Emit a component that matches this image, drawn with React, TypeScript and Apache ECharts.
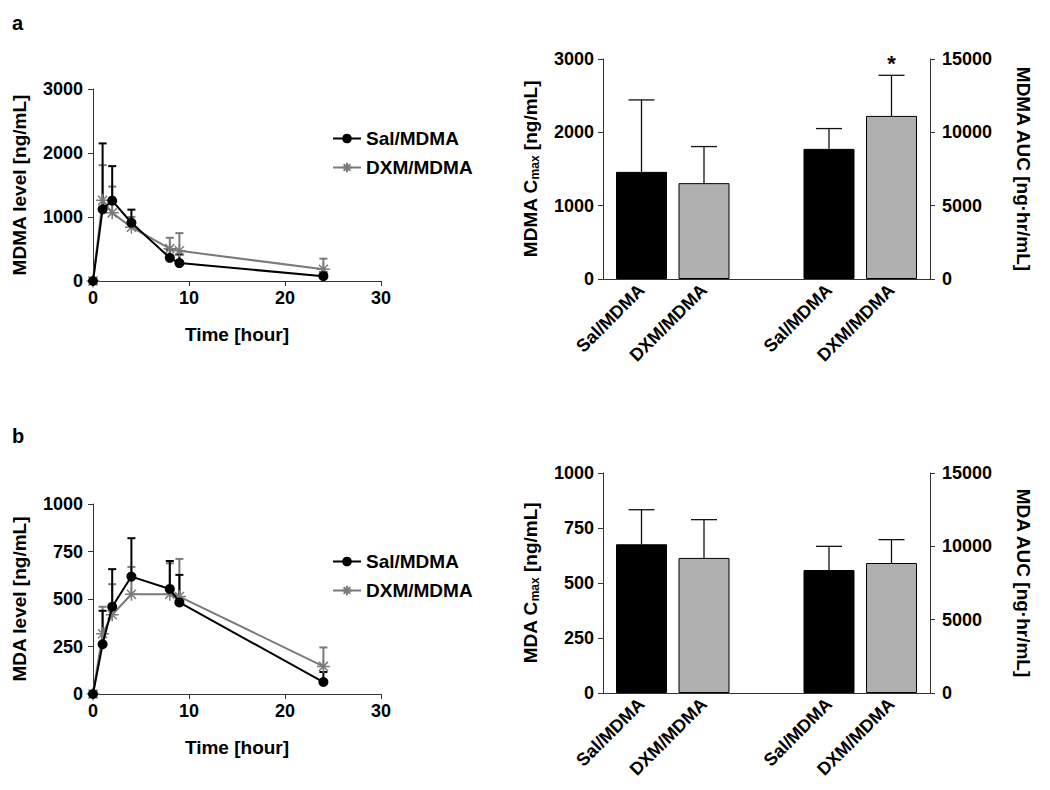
import React, { useEffect, useRef } from 'react';
import * as echarts from 'echarts';

const FONT = '"Liberation Sans", Arial, Helvetica, sans-serif';

// ---- time-course data ----
const times = [0, 1, 2, 4, 8, 9, 24];
const mdmaSalMean = [0, 1120, 1255, 910, 362, 280, 75];
const mdmaSalSd = [0, 1030, 540, 205, 128, 135, 65];
const mdmaDxmMean = [0, 1260, 1065, 840, 505, 472, 183];
const mdmaDxmSd = [0, 550, 410, 160, 170, 276, 166];
const mdaSalMean = [0, 262, 459, 618, 553, 482, 63];
const mdaSalSd = [0, 176, 198, 202, 147, 145, 53];
const mdaDxmMean = [0, 317, 417, 525, 525, 513, 145];
const mdaDxmSd = [0, 142, 161, 144, 163, 198, 100];

// ---- bar data ----
const groupNames = ['Sal/MDMA', 'DXM/MDMA', 'Sal/MDMA', 'DXM/MDMA'];
const barPositions = [0, 1, 3, 4];
const mdmaCmaxMean = [1461, 1307];
const mdmaCmaxSd = [981, 499];
const mdmaAucMean = [8873, 11120];
const mdmaAucSd = [1384, 2768];
const mdaCmaxMean = [676, 614];
const mdaCmaxSd = [157, 174];
const mdaAucMean = [8386, 8864];
const mdaAucSd = [1614, 1591];
const mdmaSig = ['', '', '', '*'];
const mdaSig = ['', '', '', ''];

const SAL = 'Sal/MDMA';
const DXM = 'DXM/MDMA';
const barColors = ['#000000', '#b0b0b0'];
const AXIS = '#333333';
const GRAY = '#7a7a7a';
const ASTERISK = 'path://M6,0L6,12M0,6L12,6M1.8,1.8L10.2,10.2M1.8,10.2L10.2,1.8';

const plain = (v: number) => String(v);
const labelStyle = { color: '#000', fontFamily: FONT, fontWeight: 'bold' as const, fontSize: 18 };
const nameStyle = { color: '#000', fontFamily: FONT, fontWeight: 'bold' as const, fontSize: 19 };

function errRender(capHalf: number, color: string, width: number, sig?: string[]) {
  return (params: any, api: any) => {
    const x = api.value(0);
    const y = api.value(1);
    const e = api.value(2);
    if (!(e > 0)) return null;
    const p0 = api.coord([x, y]);
    const p1 = api.coord([x, y + e]);
    const children: any[] = [
      { type: 'line', shape: { x1: p0[0], y1: p0[1], x2: p1[0], y2: p1[1] }, style: { stroke: color, lineWidth: width } },
      { type: 'line', shape: { x1: p1[0] - capHalf, y1: p1[1], x2: p1[0] + capHalf, y2: p1[1] }, style: { stroke: color, lineWidth: width } },
    ];
    const s = sig ? sig[params.dataIndex] : '';
    if (s) {
      children.push({
        type: 'text',
        x: p1[0],
        y: p1[1] - 1,
        style: { text: s, textAlign: 'center', textVerticalAlign: 'bottom', fontFamily: FONT, fontWeight: 'bold', fontSize: 22, fill: '#000' },
      });
    }
    return { type: 'group', children };
  };
}

function linePanel(gi: number, yMax: number, yInt: number, yName: string,
  salM: number[], salS: number[], dxmM: number[], dxmS: number[]) {
  const xAxis = {
    gridIndex: gi, type: 'value', min: 0, max: 30, interval: 10,
    axisLine: { show: true, onZero: false, lineStyle: { color: AXIS, width: 1 } },
    axisTick: { show: true, length: 5, lineStyle: { color: AXIS } },
    splitLine: { show: false },
    axisLabel: { ...labelStyle, margin: 8, formatter: plain },
    name: 'Time [hour]', nameLocation: 'middle', nameGap: 44, nameTextStyle: nameStyle,
  };
  const yAxis = {
    gridIndex: gi, type: 'value', min: 0, max: yMax, interval: yInt,
    axisLine: { show: true, onZero: false, lineStyle: { color: AXIS, width: 1 } },
    axisTick: { show: true, length: 5, lineStyle: { color: AXIS } },
    splitLine: { show: false },
    axisLabel: { ...labelStyle, margin: 10, formatter: plain },
    name: yName, nameLocation: 'middle', nameGap: 64, nameTextStyle: nameStyle,
  };
  const series = [
    {
      type: 'custom', name: 'errDxm' + gi, z: 2,
      renderItem: errRender(4, GRAY, 2),
      data: times.map((t, i) => [t, dxmM[i], dxmS[i]]),
    },
    {
      type: 'custom', name: 'errSal' + gi, z: 2,
      renderItem: errRender(4, '#000', 2),
      data: times.map((t, i) => [t, salM[i], salS[i]]),
    },
    {
      type: 'line', name: DXM, z: 3,
      data: times.map((t, i) => [t, dxmM[i]]),
      symbol: ASTERISK, symbolSize: 13,
      itemStyle: { color: GRAY, borderColor: GRAY, borderWidth: 1.5 },
      lineStyle: { color: GRAY, width: 2 },
    },
    {
      type: 'line', name: SAL, z: 4,
      data: times.map((t, i) => [t, salM[i]]),
      symbol: 'circle', symbolSize: 10,
      itemStyle: { color: '#000' },
      lineStyle: { color: '#000', width: 2 },
    },
  ];
  return { xAxis: [xAxis], yAxis: [yAxis], series };
}

function barPanel(gi: number, xi: number, yiL: number, yiR: number,
  lMax: number, lInt: number, lName: string, rName: string,
  cM: number[], cS: number[], aM: number[], aS: number[], sig: string[]) {
  const xAxis = {
    gridIndex: gi, type: 'value', min: -0.616, max: 4.616,
    axisLine: { show: true, onZero: false, lineStyle: { color: AXIS, width: 1 } },
    axisTick: { show: false },
    splitLine: { show: false },
    axisLabel: {
      ...labelStyle, fontSize: 18, rotate: 45, margin: 8,
      customValues: barPositions,
      formatter: (v: number) => {
        const k = barPositions.indexOf(Math.round(v));
        return k >= 0 ? groupNames[k] : '';
      },
    },
  };
  const yL = {
    gridIndex: gi, type: 'value', position: 'left', min: 0, max: lMax, interval: lInt,
    axisLine: { show: true, onZero: false, lineStyle: { color: AXIS, width: 1 } },
    axisTick: { show: true, length: 5, lineStyle: { color: AXIS } },
    splitLine: { show: false },
    axisLabel: { ...labelStyle, margin: 9, formatter: plain },
    name: lName, nameLocation: 'middle', nameGap: 62,
    nameTextStyle: {
      ...nameStyle, lineHeight: 22,
      rich: { s: { ...nameStyle, fontSize: 12, lineHeight: 12, verticalAlign: 'bottom' } },
    },
  };
  const yR = {
    gridIndex: gi, type: 'value', position: 'right', min: 0, max: 15000, interval: 5000,
    axisLine: { show: true, onZero: false, lineStyle: { color: AXIS, width: 1 } },
    axisTick: { show: true, length: 5, lineStyle: { color: AXIS } },
    splitLine: { show: false },
    axisLabel: { ...labelStyle, margin: 12, formatter: plain },
    name: rName, nameLocation: 'middle', nameGap: 84, nameRotate: -90,
    nameTextStyle: nameStyle,
  };
  const mk = (vals: number[], off: number) => vals.map((v, i) => ({
    value: [barPositions[off + i], v],
    itemStyle: { color: barColors[i], borderColor: '#000', borderWidth: 1 },
  }));
  const series = [
    {
      type: 'bar', name: 'cmax' + gi, xAxisIndex: xi, yAxisIndex: yiL, barWidth: 51, barGap: '-100%', z: 2,
      data: mk(cM, 0),
    },
    {
      type: 'bar', name: 'auc' + gi, xAxisIndex: xi, yAxisIndex: yiR, barWidth: 51, barGap: '-100%', z: 2,
      data: mk(aM, 2),
    },
    {
      type: 'custom', name: 'cmaxErr' + gi, xAxisIndex: xi, yAxisIndex: yiL, z: 1,
      renderItem: errRender(13, '#111', 1.3, sig.slice(0, 2)),
      data: cM.map((v, i) => [barPositions[i], v, cS[i]]),
    },
    {
      type: 'custom', name: 'aucErr' + gi, xAxisIndex: xi, yAxisIndex: yiR, z: 1,
      renderItem: errRender(13, '#111', 1.3, sig.slice(2, 4)),
      data: aM.map((v, i) => [barPositions[2 + i], v, aS[i]]),
    },
  ];
  return { xAxis: [xAxis], yAxis: [yL, yR], series };
}

export default function App() {
  const ref = useRef<HTMLDivElement>(null);
  useEffect(() => {
    if (!ref.current) return;
    const chart = echarts.init(ref.current, undefined, { renderer: 'svg' });

    const p0 = linePanel(0, 3000, 1000, 'MDMA level [ng/mL]', mdmaSalMean, mdmaSalSd, mdmaDxmMean, mdmaDxmSd);
    const p2 = linePanel(2, 1000, 250, 'MDA level [ng/mL]', mdaSalMean, mdaSalSd, mdaDxmMean, mdaDxmSd);
    // xAxis [0: line a, 1: bar a, 2: line b, 3: bar b]
    // yAxis [0: line a, 1: bar a L, 2: bar a R, 3: line b, 4: bar b L, 5: bar b R]
    const fix = (p: any, xi: number, yi: number) => {
      p.series.forEach((s: any) => { s.xAxisIndex = xi; s.yAxisIndex = yi; });
      return p;
    };
    fix(p0, 0, 0);
    fix(p2, 2, 3);
    const p1 = barPanel(1, 1, 1, 2, 3000, 1000, 'MDMA C{s|max} [ng/mL]', 'MDMA AUC [ng·hr/mL]',
      mdmaCmaxMean, mdmaCmaxSd, mdmaAucMean, mdmaAucSd, mdmaSig);
    const p3 = barPanel(3, 3, 4, 5, 1000, 250, 'MDA C{s|max} [ng/mL]', 'MDA AUC [ng·hr/mL]',
      mdaCmaxMean, mdaCmaxSd, mdaAucMean, mdaAucSd, mdaSig);

    const legendBase = {
      orient: 'vertical', left: 327, data: [SAL, DXM], selectedMode: false,
      itemWidth: 28, itemHeight: 12, itemGap: 10,
      textStyle: { ...nameStyle, fontSize: 19, lineHeight: 19 },
    };

    chart.setOption({
      animation: false,
      backgroundColor: '#ffffff',
      title: [
        { text: 'a', left: 7, top: 8, textStyle: { fontFamily: FONT, fontWeight: 'bold', fontSize: 20, color: '#000' } },
        { text: 'b', left: 7, top: 421, textStyle: { fontFamily: FONT, fontWeight: 'bold', fontSize: 20, color: '#000' } },
      ],
      legend: [
        { ...legendBase, top: 124 },
        { ...legendBase, top: 547 },
      ],
      grid: [
        { left: 93, top: 89, width: 288, height: 192 },
        { left: 603, top: 59, width: 327, height: 220 },
        { left: 93, top: 504, width: 288, height: 190 },
        { left: 603, top: 473, width: 327, height: 220 },
      ],
      xAxis: [...p0.xAxis, ...p1.xAxis, ...p2.xAxis, ...p3.xAxis],
      yAxis: [...p0.yAxis, ...p1.yAxis, ...p2.yAxis, ...p3.yAxis],
      series: [...p0.series, ...p1.series, ...p2.series, ...p3.series],
    });
    return () => chart.dispose();
  }, []);
  return <div ref={ref} style={{ position: 'fixed', left: 0, top: 0, width: 1050, height: 790, background: '#fff' }} />;
}
